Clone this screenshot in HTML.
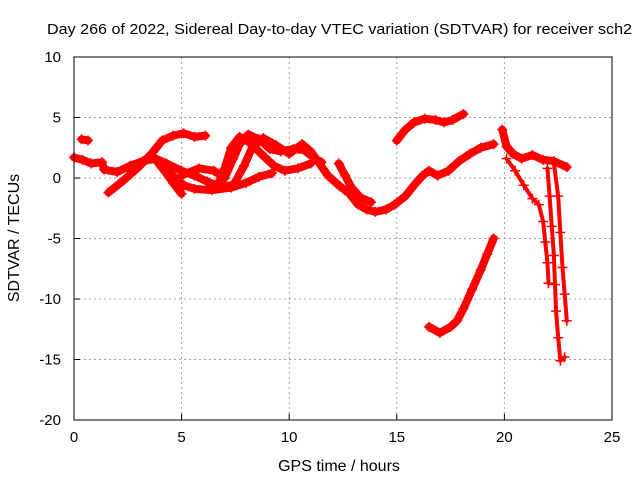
<!DOCTYPE html>
<html><head><meta charset="utf-8"><style>
html,body{margin:0;padding:0;background:#fff;}
svg{display:block;font-family:"Liberation Sans",sans-serif;}
</style></head><body>
<svg id="chart" width="640" height="480">
<rect x="0" y="0" width="640" height="480" fill="#fff"/>
<g id="grid"></g><g id="series"></g><g id="axes"></g>
</svg>
<script>
const xTicks=[0,5,10,15,20,25];
const yTicks=[10,5,0,-5,-10,-15,-20];
const track1=[[0,1.7],[0.4,1.5],[0.8,1.2],[1.3,1.3],[1.4,0.7],[2,0.5],[2.6,1.0],[3.2,1.4],[3.8,1.6],[4.3,1.2],[5,0.6],[5.6,0.2],[6.2,-0.3],[6.8,-0.7],[7.4,-0.6]];
const track2=[[0.35,3.2],[0.65,3.1]];
const track3=[[1.6,-1.2],[2.3,-0.2],[3.0,0.9],[3.6,2.0],[4.1,3.1],[4.6,3.5],[5.1,3.7],[5.6,3.4],[6.1,3.5]];
const track4=[[3.8,1.5],[4.2,0.6],[4.6,-0.4],[5.0,-1.3]];
const track5=[[4.1,1.0],[4.6,0.2],[5.1,-0.6],[5.6,-0.9],[6.4,-1.0],[7.3,-0.8],[8.0,-0.4],[8.6,0.1],[9.2,0.4]];
const track6=[[5.0,0.2],[5.8,0.8],[6.5,0.6],[7.0,0.0],[7.4,1.6],[7.7,2.8],[8.1,3.6],[8.6,3.2],[9.1,2.4],[9.6,2.2],[10.2,2.4],[10.7,2.3],[11.2,1.6],[11.5,1.3]];
const track7=[[6.7,-0.5],[7.0,0.8],[7.3,2.5],[7.7,3.4],[8.2,2.9],[8.7,2.0],[9.3,1.0],[9.8,0.6],[10.4,0.8],[11.0,1.2]];
const track8=[[7.5,-0.3],[7.9,1.0],[8.3,2.6],[8.8,3.3],[9.4,2.7],[10.0,2.0],[10.6,2.8],[11.0,2.2],[11.4,1.2],[11.8,0.2],[12.3,-0.6],[12.8,-1.3],[13.2,-2.2],[13.6,-2.6],[14.0,-2.8],[14.5,-2.6],[14.9,-2.2],[15.4,-1.5],[15.8,-0.6],[16.2,0.2],[16.5,0.6],[16.9,0.2],[17.4,0.6],[17.9,1.4],[18.4,2.0],[18.9,2.5],[19.5,2.8]];
const track9=[[12.3,1.2],[12.6,0.2],[12.9,-0.8],[13.3,-1.6],[13.8,-2.0]];
const track10=[[15.0,3.1],[15.4,4.0],[15.8,4.6],[16.3,4.9],[16.8,4.8],[17.2,4.6],[17.6,4.8],[18.1,5.3]];
const track11=[[16.5,-12.3],[17.0,-12.8],[17.5,-12.3],[17.8,-11.8],[18.1,-10.8],[18.5,-9.2],[18.9,-7.6],[19.2,-6.3],[19.5,-5.0]];
const track12=[[19.9,4.0],[20.1,2.6],[20.4,2.0],[20.8,1.6],[21.3,1.9],[21.8,1.5],[22.3,1.4],[22.9,0.9]];
const track13=[[20.1,1.6],[20.5,0.6],[20.9,-0.6],[21.3,-1.7],[21.6,-2.2],[21.8,-3.6],[21.9,-5.3],[22.0,-7.0],[22.05,-8.7]];
const track14=[[22.0,0.8],[22.1,-1.5],[22.2,-4.0],[22.3,-6.4],[22.35,-8.8],[22.4,-11.0],[22.5,-13.2],[22.6,-15.1],[22.8,-14.8]];
const track15=[[22.3,1.2],[22.5,-1.5],[22.6,-4.5],[22.7,-7.4],[22.8,-9.6],[22.9,-11.8]];
const tracks=[track1,track2,track3,track4,track5,track6,track7,track8,track9,track10,track11,track12,track13,track14,track15];
const NS="http://www.w3.org/2000/svg";
const X0=74,X1=612,Y0=57,Y1=420;
function sx(t){return X0+(t-0)/(25-0)*(X1-X0);}
function sy(v){return Y0+(10-v)/(10-(-20))*(Y1-Y0);}
function mk(tag,attrs,parent){const e=document.createElementNS(NS,tag);for(const k in attrs)e.setAttribute(k,attrs[k]);parent.appendChild(e);return e;}
const grid=document.getElementById('grid'),ser=document.getElementById('series'),axes=document.getElementById('axes');
xTicks.forEach(t=>{
 if(t>0&&t<25){const l=mk('line',{x1:sx(t),x2:sx(t),y1:Y0,y2:Y1,stroke:'#a0a0a0','stroke-dasharray':'2,3'},grid);
 
 }
 const tl=mk('line',{x1:sx(t),x2:sx(t),y1:Y1,y2:Y1-6,stroke:'#000'},axes);
 
 
 const tx=mk('text',{x:sx(t),y:Y1+22,'text-anchor':'middle','font-size':'15'},axes);tx.textContent=t;
 
 
});
yTicks.forEach(v=>{
 if(v<10&&v>-20){const l=mk('line',{x1:X0,x2:X1,y1:sy(v),y2:sy(v),stroke:'#a0a0a0','stroke-dasharray':'2,3'},grid);
 
 }
 const tl=mk('line',{x1:X0,x2:X0+6,y1:sy(v),y2:sy(v),stroke:'#000'},axes);
 
 
 const tx=mk('text',{x:X0-13,y:sy(v)+5,'text-anchor':'end','font-size':'15'},axes);tx.textContent=v;
 
 
});
const frame=mk('rect',{x:X0,y:Y0,width:X1-X0,height:Y1-Y0,fill:'none',stroke:'#000'},axes);


tracks.forEach((tr,i)=>{
 const thin=i>=12;
 const g=mk('g',{},ser);
 
 
 mk('polyline',{points:tr.map(p=>sx(p[0])+','+sy(p[1])).join(' '),fill:'none',stroke:'#ff0000','stroke-width':thin?'4':'8','stroke-linejoin':'round','stroke-linecap':'round'},g);
 tr.forEach(p=>{
  const m=mk('path',{d:`M${sx(p[0])-5},${sy(p[1])}h10M${sx(p[0])},${sy(p[1])-5}v10`,stroke:'#ff0000','stroke-width':'1.5'},g);
  
  
 });
});
const title=mk('text',{x:47,y:34,'font-size':'15',textLength:'585',lengthAdjust:'spacingAndGlyphs'},axes);
title.textContent='Day 266 of 2022, Sidereal Day-to-day VTEC variation (SDTVAR) for receiver sch2';


const xl=mk('text',{x:339,y:471,'text-anchor':'middle','font-size':'16'},axes);
xl.textContent='GPS time / hours';


const yl=mk('text',{x:0,y:0,'text-anchor':'middle','font-size':'16',transform:'translate(19,238) rotate(-90)'},axes);
yl.textContent='SDTVAR / TECUs';


</script>
</body></html>
